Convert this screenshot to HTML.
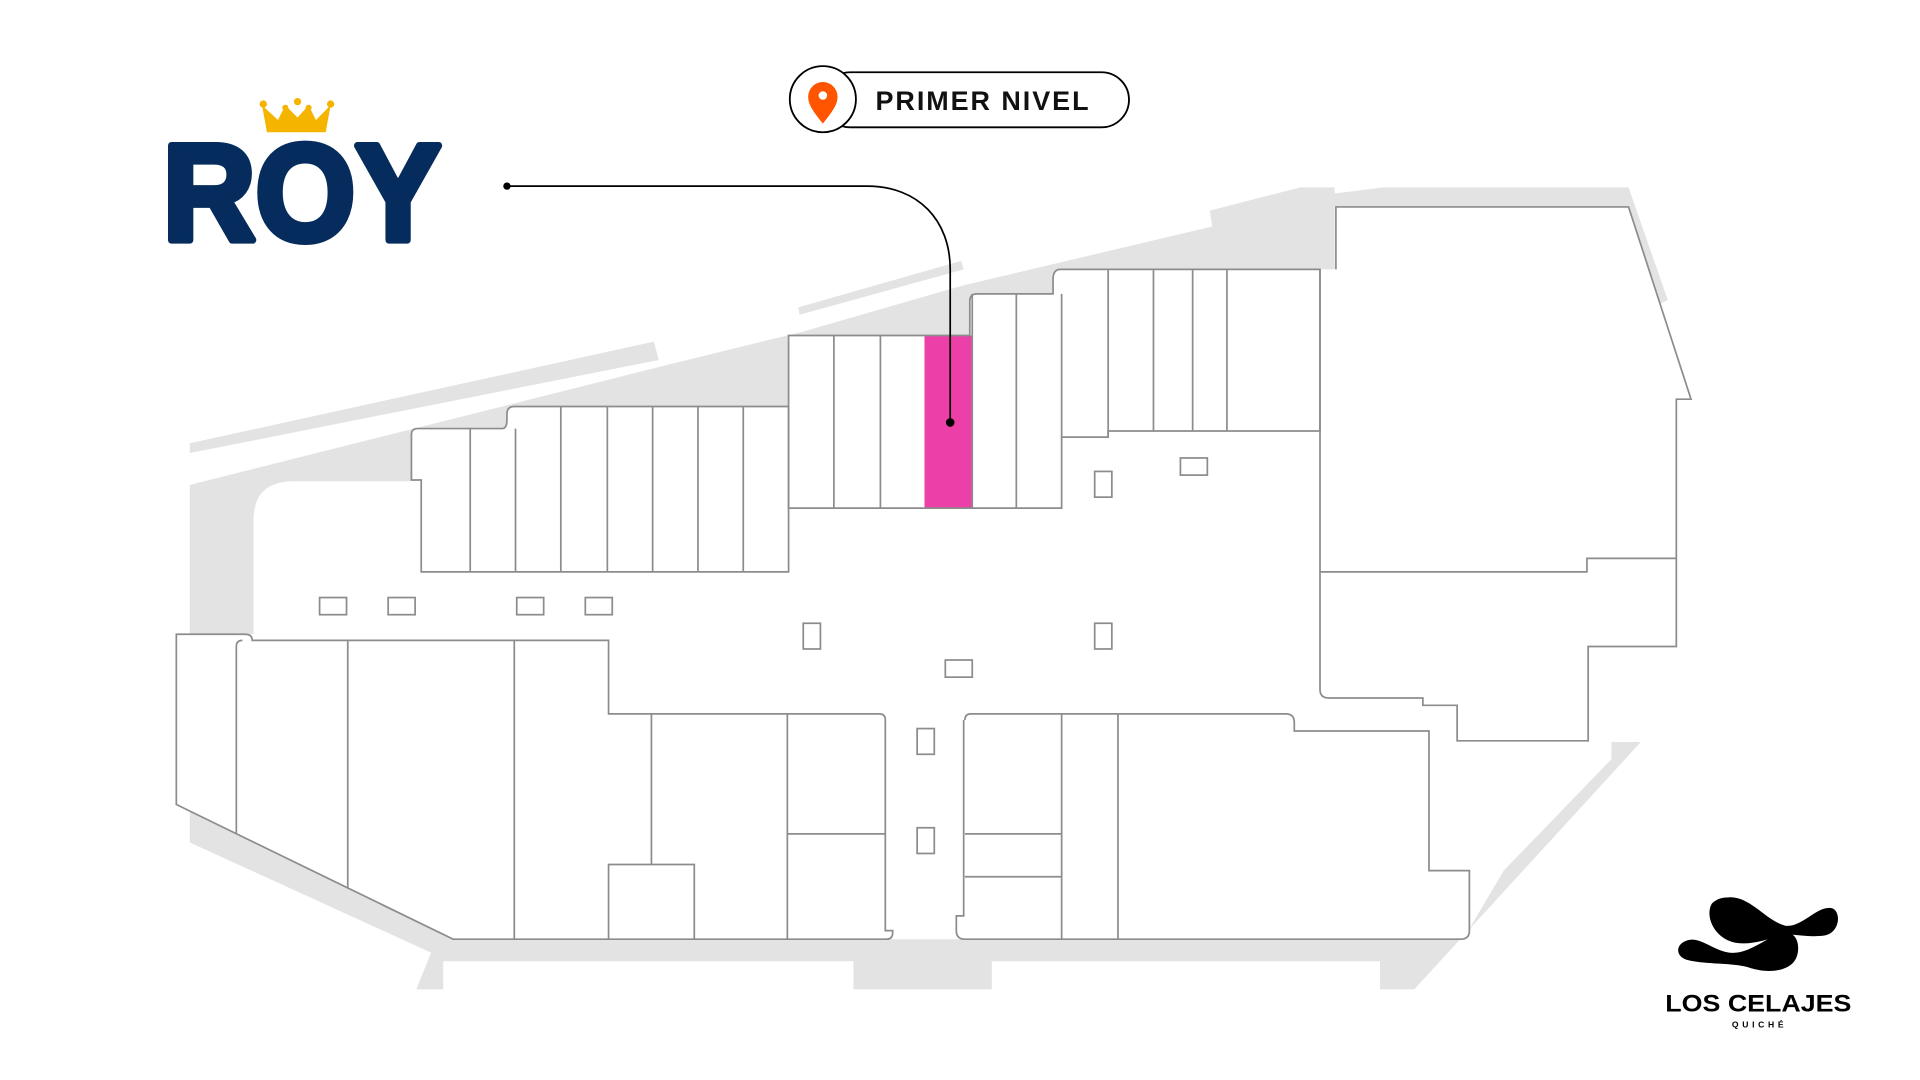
<!DOCTYPE html>
<html><head><meta charset="utf-8"><style>
html,body{margin:0;padding:0;background:#fff;width:1920px;height:1080px;overflow:hidden}
svg{display:block}
</style></head><body>
<svg width="1920" height="1080" viewBox="0 0 1568 882" preserveAspectRatio="none" xmlns="http://www.w3.org/2000/svg">
<rect width="1568" height="882" fill="#fff"/>
<g fill="#e3e3e3">
<polygon points="155,362 534,279 538,294 155,370"/>
<polygon points="652,251 785,213 787,220 653,257"/>
<polygon points="155,396 545,298 655,271 787,233 990,185 988,172 1062,153 1090,153 1090,158 1130,153 1330,153 1362,245 1352,250 1330,169 1090,400 155,650"/>
<polygon points="155,655 372,767 1195,767 1228,711 1316,620 1316,606 1340,606 1155,808 1127,808 1127,785 810,785 810,808 697,808 697,785 362,785 362,808 340,808 352,778 155,688"/>
</g>
<path fill="#fff" d="M144,657 V518 H207 V425 Q207,393 240,393 H336 V355 Q336,350 341,350 H410 Q414,350 414,343 V338 Q414,332 420,332 H644 V274 H792 V246 Q792,240 798,240 H860 V228 Q860,220 866,220 H1090 V169 H1330 L1381,326 H1369 V528 H1297 V605 H1190 V576 H1162 V570 H1058 V597 H1167 V711 H1200 V760 Q1200,767 1193,767 H370 Z"/>
<rect x="755" y="274" width="39" height="141" fill="#ec40a8"/>
<g fill="none" stroke="#8c8c8c" stroke-width="1.4">
<path d="M144,657 V518 H200 Q206,518 206,523 H497 V583 H718 Q723,583 723,588 V760 H729 V762 Q729,767 724,767 H370 Z"/>
<path d="M193,528 Q193,523 198,523 M193,528 V681 M284,523 V725 M420,523 V767 M532,583 V706 M497,767 V706 H567 V767 M643,583 V767 M643,681 H723"/>
<path d="M788,588 Q788,583 793,583 H1050 Q1057,583 1057,590 V597 H1167 V711 H1200 V760 Q1200,767 1193,767 H788 Q781,767 781,760 V748 H787 V588"/>
<path d="M867,583 V767 M913,583 V767 M788,681 H867 M788,716 H867"/>
<path d="M344,467 V392 H336 V355 Q336,350 341,350 H410 Q414,350 414,343 V338 Q414,332 420,332 H644 V467 Z"/>
<path d="M384,350 V467 M421,350 V467 M458,332 V467 M496,332 V467 M533,332 V467 M570,332 V467 M607,332 V467"/>
<path d="M644,415 V274 H792 V246 Q792,240 798,240 H860 V228 Q860,220 866,220 H1078 V352 H905 V357 H867 V415 Z"/>
<path d="M681,274 V415 M719,274 V415 M794,240 V415 M830,240 V415 M867,240 V357 M905,220 V357 M942,220 V352 M974,220 V352 M1002,220 V352"/>
<path d="M1078,220 V563 Q1078,570 1085,570 H1162 V576 H1190 V605 H1297 V528 H1369 V326 H1381 L1330,169 H1091 V220"/>
<path d="M1078,467 H1296 V456 H1369"/>
<rect x="261" y="488" width="22" height="14"/><rect x="317" y="488" width="22" height="14"/>
<rect x="422" y="488" width="22" height="14"/><rect x="478" y="488" width="22" height="14"/>
<rect x="656" y="509" width="14" height="21"/><rect x="894" y="385" width="14" height="21"/>
<rect x="964" y="374" width="22" height="14"/><rect x="894" y="509" width="14" height="21"/>
<rect x="772" y="539" width="22" height="14"/><rect x="749" y="595" width="14" height="21"/>
<rect x="749" y="676" width="14" height="21"/>
</g>
<path d="M414,152 H708 C750,152 776,180 776,220 V345" fill="none" stroke="#000" stroke-width="1.4"/>
<circle cx="414" cy="152" r="3" fill="#000"/>
<circle cx="776" cy="345" r="3.5" fill="#000"/>
<rect x="672" y="59" width="250" height="45" rx="22.5" fill="#fff" stroke="#000" stroke-width="1.5"/>
<circle cx="672" cy="81" r="27" fill="#fff" stroke="#000" stroke-width="1.5"/>
<path d="M672,101 C665,92 660,86 660,79 A12,12 0 0 1 684,79 C684,86 679,92 672,101 Z" fill="#ff5500"/>
<circle cx="672" cy="78" r="3.5" fill="#fff"/>
<text x="715" y="90" font-family="Liberation Sans, sans-serif" font-size="22" font-weight="bold" letter-spacing="1.6" fill="#111">PRIMER NIVEL</text>
<path d="M218,108 L214,86 L227,98 L233,86 L243,96 L252,86 L258,98 L270,86 L266,108 Z" fill="#f5b400"/>
<circle cx="215" cy="85" r="3" fill="#f5b400"/><circle cx="233" cy="88" r="2.5" fill="#f5b400"/>
<circle cx="243" cy="83" r="3" fill="#f5b400"/><circle cx="252" cy="88" r="2.5" fill="#f5b400"/>
<circle cx="270" cy="85" r="3" fill="#f5b400"/>
<text x="133" y="196" font-family="Liberation Sans, sans-serif" font-size="112" font-weight="bold" fill="#052c5c" stroke="#052c5c" stroke-width="6" stroke-linejoin="round" textLength="227" lengthAdjust="spacingAndGlyphs">ROY</text>
<path d="M1410,733 C1428,730 1442,752 1458,756 C1472,758 1485,738 1497,742 C1504,746 1502,762 1490,764 C1475,766 1466,762 1456,764 C1445,766 1432,772 1418,770 C1400,767 1392,748 1398,738 C1401,735 1405,733 1410,733 Z" fill="#000"/>
<path d="M1378,768 C1390,764 1402,780 1418,778 C1434,776 1446,762 1460,762 C1470,763 1470,778 1466,784 C1460,794 1442,795 1428,790 C1414,786 1395,788 1378,784 C1368,781 1368,771 1378,768 Z" fill="#000"/>
<text x="1436" y="826" text-anchor="middle" font-family="Liberation Sans, sans-serif" font-size="20" font-weight="bold" fill="#000" textLength="152" lengthAdjust="spacingAndGlyphs">LOS CELAJES</text>
<text x="1437" y="839" text-anchor="middle" font-family="Liberation Sans, sans-serif" font-size="7" font-weight="bold" letter-spacing="3" fill="#000">QUICHÉ</text>
</svg>
</body></html>
